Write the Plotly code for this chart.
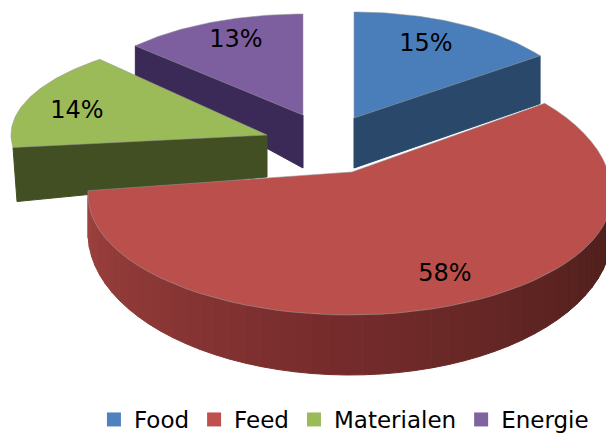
import numpy as np
import plotly.graph_objects as go

categories = ["Food", "Feed", "Materialen", "Energie"]
values = [15, 58, 14, 13]
top_colors = ["#4a7ebb", "#bb4f4c", "#9bbb59", "#7d5fa0"]
key_colors = ["#4f81bd", "#c0504d", "#9bbb59", "#8064a2"]
face_colors = ["#2a4869", "#6e2a28", "#414f22", "#3b2a58"]

# Perspective layout of each wedge, in picture pixels: cx, cy, a, b far side, b near side
apex = {"Food": (354, 118), "Feed": (352, 172), "Materialen": (267, 135), "Energie": (303, 115)}
ellipse = {"Food": (354, 118, 230, 106, 106), "Feed": (350, 195, 262, 137, 120),
           "Materialen": (267, 135, 256, 100, 100), "Energie": (303, 115, 230, 101, 101)}
arc_shift = {"Food": (0, 0), "Feed": (-6, 9), "Materialen": (0, 6), "Energie": (0, 0)}
depth = {"Food": (50, 48), "Materialen": (42, 54), "Energie": (53, 31)}
label_pos = {"Food": (426, 45), "Feed": (445, 275), "Materialen": (77, 112), "Energie": (236, 41)}
draw_order = ["Energie", "Food", "Materialen", "Feed"]

cum = np.cumsum([0] + values) * 3.6
spans = {c: (cum[i], cum[i + 1]) for i, c in enumerate(categories)}


def arc(cat, n=60):
    cx, cy, a, b_far, b_near = ellipse[cat]
    t0, t1 = spans[cat]
    d0, d1 = arc_shift[cat]
    phi = np.radians(np.linspace(t0 + d0, t1 + d1, n))
    c = np.cos(phi)
    return cx + a * np.sin(phi), cy - np.where(c > 0, b_far, b_near) * c, phi


def shade(t):
    # feed wall: light at the left (t=1), dark at the right (t=0)
    lo, mid, hi = np.array([74, 30, 26]), np.array([118, 44, 44]), np.array([160, 68, 64])
    c = lo + (mid - lo) * t * 2 if t < 0.5 else mid + (hi - mid) * (t - 0.5) * 2
    return "rgb(%d,%d,%d)" % tuple(c)


fig = go.Figure()


def poly(xs, ys, color, line=None, width=1):
    fig.add_trace(go.Scatter(x=list(xs), y=list(ys), mode="lines", fill="toself", fillcolor=color,
                             line=dict(color=line or color, width=width), hoverinfo="skip",
                             showlegend=False))


for cat in draw_order:
    i = categories.index(cat)
    ax, ay = apex[cat]
    x, y, phi = arc(cat)
    if cat == "Feed":
        keep = np.where(phi >= np.pi / 2)[0]
        dep = 38 + 22 * np.maximum(0, -np.cos(phi))
        for j, k in zip(keep[:-1], keep[1:]):
            t = (phi[j] - np.pi / 2) / (phi[-1] - np.pi / 2)
            poly([x[j], x[k], x[k], x[j], x[j]],
                 [y[j], y[k], y[k] + dep[k], y[j] + dep[j], y[j]], shade(float(t)))
    else:
        d_apex, d_edge = depth[cat]
        if cat == "Food":
            ex, ey = x[-1], y[-1]
        else:
            ex, ey = x[0], y[0]
        poly([ex, ax, ax, ex + (4 if cat == "Materialen" else 0), ex],
             [ey, ay, ay + d_apex, ey + d_edge, ey], face_colors[i])
    poly(np.r_[ax, x, ax], np.r_[ay, y, ay], top_colors[i], line="rgba(150,150,150,0.55)")

fig.add_trace(go.Scatter(x=[label_pos[c][0] for c in categories], y=[label_pos[c][1] for c in categories],
                         mode="text", text=["%d%%" % v for v in values], showlegend=False,
                         textfont=dict(family="DejaVu Sans", size=24, color="#000000"), hoverinfo="skip"))

for c, col in zip(categories, key_colors):
    fig.add_trace(go.Scatter(x=[None], y=[None], mode="markers", name=c,
                             marker=dict(symbol="square", size=14, color=col)))

fig.update_layout(
    width=606, height=441, margin=dict(l=0, r=0, t=0, b=0), paper_bgcolor="white", plot_bgcolor="white",
    xaxis=dict(range=[0, 606], visible=False, fixedrange=True),
    yaxis=dict(range=[441, 0], visible=False, fixedrange=True),
    legend=dict(orientation="h", x=0.155, xanchor="left", y=0, yanchor="bottom",
                font=dict(family="DejaVu Sans", size=23, color="#000000"),
                itemwidth=30, bgcolor="rgba(0,0,0,0)"),
)
fig.write_html("out.html", config=dict(displayModeBar=False),
               post_script="document.body.style.margin='0';document.body.style.overflow='hidden';")
